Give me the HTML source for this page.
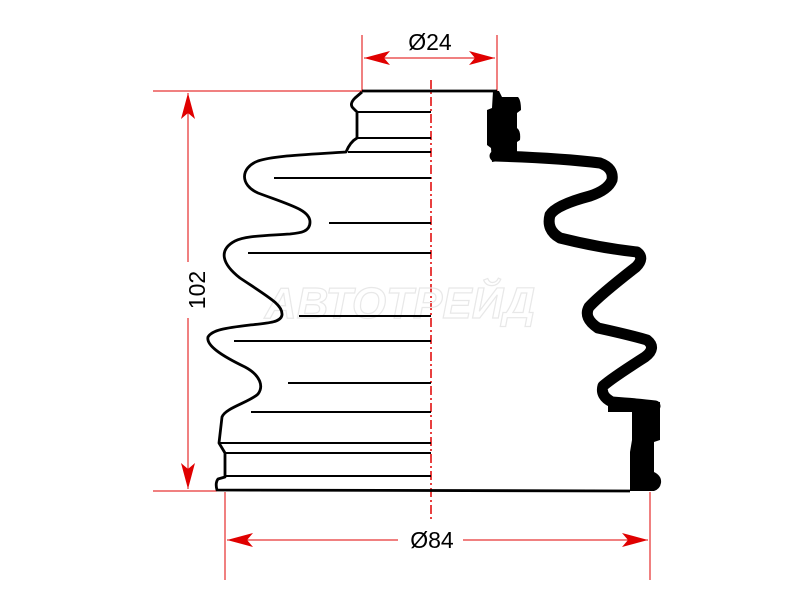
<!DOCTYPE html>
<html><head><style>body{margin:0;background:#fff}svg{display:block}</style></head><body>
<svg width="800" height="600" viewBox="0 0 800 600" xmlns="http://www.w3.org/2000/svg">
<g stroke="#e00000" stroke-width="1" fill="none">
<line x1="362" y1="35" x2="362" y2="91"/>
<line x1="497" y1="35" x2="497" y2="91"/>
<line x1="364" y1="58" x2="495" y2="58"/>
<line x1="153" y1="91" x2="362" y2="91"/>
<line x1="153" y1="491" x2="217" y2="491"/>
<line x1="188" y1="93" x2="188" y2="262"/>
<line x1="188" y1="318" x2="188" y2="489"/>
<line x1="225" y1="492" x2="225" y2="580"/>
<line x1="650" y1="492" x2="650" y2="580"/>
<line x1="227" y1="540" x2="398" y2="540"/>
<line x1="463" y1="540" x2="648" y2="540"/>
<line x1="431" y1="80" x2="431" y2="520" stroke-width="1.5" stroke-dasharray="9,3,2,3"/>
</g>
<g fill="#e00000">
<path d="M364,58 L390,51 L384,58 L390,65 Z"/>
<path d="M495,58 L469,51 L475,58 L469,65 Z"/>
<path d="M188,93 L181,119 L188,113 L195,119 Z"/>
<path d="M188,489 L181,463 L188,469 L195,463 Z"/>
<path d="M227,540 L253,533 L247,540 L253,547 Z"/>
<path d="M648,540 L622,533 L628,540 L622,547 Z"/>
</g>
<g font-family="Liberation Sans, sans-serif" font-size="23" fill="#000">
<text x="430" y="50" text-anchor="middle">Ø24</text>
<text x="432" y="548" text-anchor="middle">Ø84</text>
<text transform="translate(205,290) rotate(-90)" text-anchor="middle">102</text>
</g>
<text x="400" y="318" font-family="Liberation Sans, sans-serif" font-size="44" font-style="italic" font-weight="bold" fill="none" stroke="#e8e8e8" stroke-width="1.2" text-anchor="middle">АВТОТРЕЙД</text>
<g stroke="#000" stroke-width="2.8" fill="none" stroke-linejoin="round">
<path d="M362,92 L355,98 Q349,104 353,108 L357,112 L357,138 Q350,142 346,152 C300,155 272,156 258,161 C240,168 240,185 258,193 C290,205 310,210 310,222 C310,232 300,233 290,234 C260,236 245,236 235,241 C218,250 222,264 240,278 C270,298 283,305 282,315 C281,322 270,323 250,325 C225,328 212,330 208,337 C206,345 220,355 245,367 C260,375 264,386 258,394 C250,402 225,408 222,417 L219,443 L225,453 L225,477 L218,479 Q215,483 217,490 L630,491"/>
<path d="M362,91 L497,91"/>
</g>
<g stroke="#000" stroke-width="2" fill="none">
<line x1="357" y1="112" x2="431" y2="112"/>
<line x1="357" y1="138" x2="431" y2="138"/>
<line x1="348" y1="152" x2="431" y2="152"/>
<line x1="274" y1="178" x2="431" y2="178"/>
<line x1="329" y1="223" x2="431" y2="223"/>
<line x1="248" y1="253" x2="431" y2="253"/>
<line x1="299" y1="316" x2="431" y2="316"/>
<line x1="234" y1="341" x2="431" y2="341"/>
<line x1="288" y1="383" x2="431" y2="383"/>
<line x1="251" y1="412" x2="431" y2="412"/>
<line x1="220" y1="443" x2="431" y2="443"/>
<line x1="225" y1="453" x2="431" y2="453"/>
<line x1="225" y1="476" x2="431" y2="476"/>
</g>
<path d="M495,156 Q560,158 600,163 Q614,168 612,180 Q608,190 590,196 Q556,205 550,215 Q546,230 560,238 Q600,248 637,252 Q645,258 636,267 Q600,295 589,307 Q583,318 598,328 Q630,335 647,340 Q657,348 645,357 Q612,378 603,386 Q600,396 612,402 Q640,404 655,406" stroke="#000" stroke-width="11" fill="none" stroke-linejoin="round" stroke-linecap="round"/>
<g fill="#000">
<path d="M493,91 L499,91 L502,97 L518,97 Q521,100 521,110 L517,113 L517,128 Q521,131 520,140 L517,142 L517,158 L492,162 L491,148 L487,145 L487,110 L492,108 Z"/>
<path d="M608,400 L660,402 L660,412 L660,440 L654,442 L654,472 Q662,476 661,483 Q660,489 654,491 L630,491 L630,452 L632,440 L632,412 L608,412 Z"/>
</g>
</svg>
</body></html>
